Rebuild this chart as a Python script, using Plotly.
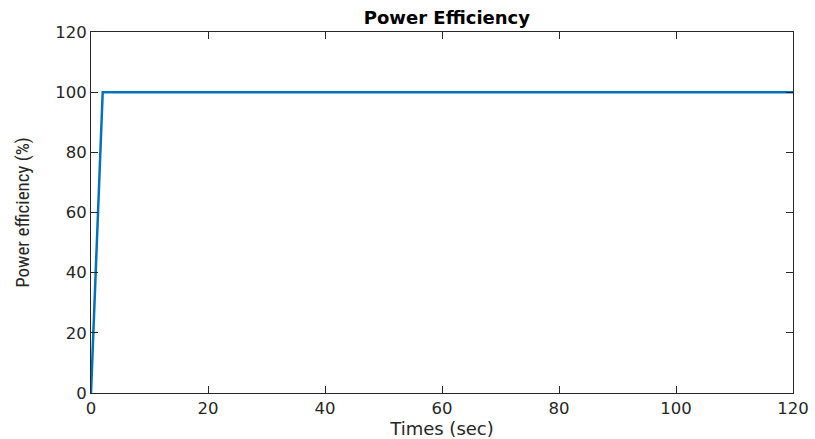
import plotly.graph_objects as go

time_s = [0, 2, 120]
efficiency = [0, 100, 100]
x_ticks = [0, 20, 40, 60, 80, 100, 120]
y_ticks = [0, 20, 40, 60, 80, 100, 120]

fig = go.Figure()
fig.add_trace(go.Scatter(x=time_s, y=efficiency, mode="lines",
                         line=dict(color="#0072BD", width=2.5), showlegend=False))

axis_common = dict(showline=True, linecolor="#262626", linewidth=1, mirror="ticks",
                   ticks="inside", ticklen=7, tickcolor="#262626", showgrid=False,
                   automargin=False, zeroline=False,
                   tickfont=dict(family="DejaVu Sans", size=16.5, color="#262626"))
fig.update_xaxes(range=[0, 120], tickvals=x_ticks,
                 title=dict(text="Times (sec)", font=dict(family="DejaVu Sans", size=18, color="#262626"), standoff=5),
                 **axis_common)
fig.update_yaxes(range=[0, 120], tickvals=y_ticks,
                 title=dict(text="Power efficiency (%)", font=dict(family="Liberation Sans Narrow, Arial Narrow, Roboto Condensed, Liberation Sans", size=19, color="#262626"), standoff=20),
                 **axis_common)
fig.update_layout(width=815, height=439, margin=dict(l=91, r=22, t=32, b=46),
                  plot_bgcolor="white", paper_bgcolor="white",
                  title=dict(text="<b>Power Efficiency</b>", xref="paper", x=0.507, xanchor="center",
                             yref="container", y=0.96, yanchor="middle",
                             font=dict(family="DejaVu Sans", size=18, color="black")))
fig.write_html("out.html")
